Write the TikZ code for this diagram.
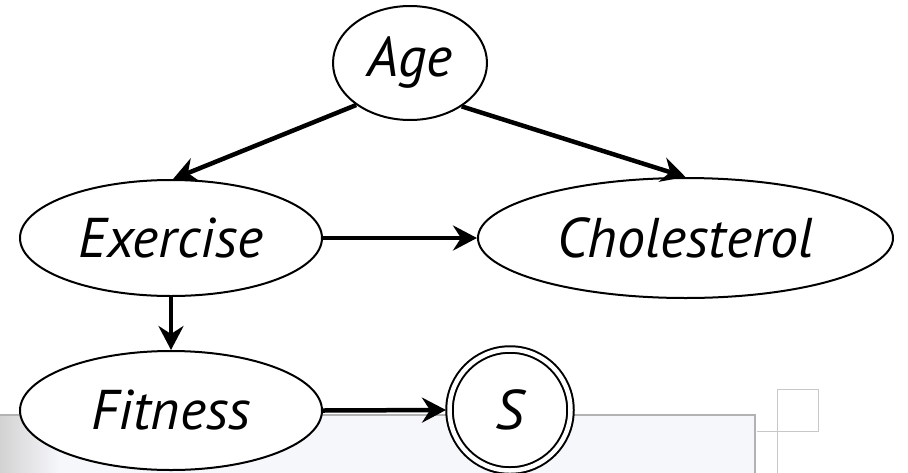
\documentclass[tikz,border=0pt]{standalone}
\usepackage{fontspec}
\setmainfont{PT Sans}
\usetikzlibrary{shapes.geometric,arrows.meta}
\definecolor{panelbg}{HTML}{F6F7FB}
\definecolor{panelrim}{HTML}{B2B2B2}
\definecolor{gridline}{HTML}{C8C8C8}
\tikzset{
  varnode/.style={ellipse, draw, line width=2pt, fill=white, inner sep=0pt,
    font=\fontsize{56}{62}\selectfont\itshape},
  evidence/.style={circle, draw, line width=2pt, double, double distance=4.5pt,
    fill=white, inner sep=0pt, minimum size=121pt, outer sep=3.5pt,
    font=\fontsize{56}{62}\selectfont\itshape},
  link/.style={line width=4.5pt, -{Stealth[length=24pt,width=25pt,inset=8pt]}},
}
\begin{document}
\begin{tikzpicture}[x=1pt,y=-1pt]
  \useasboundingbox (0,0) rectangle (908,472);
  % slide panel behind the lower row
  \fill[panelbg] (0,415) rectangle (755,474);
  \shade[left color=gray!35, right color=panelbg] (0,416) rectangle (60,474);
  \draw[panelrim, line width=2.5pt] (0,415) -- (755,415) -- (755,474);
  % small frame at the right
  \draw[gridline, line width=1pt] (777,389) rectangle (818,431);
  \draw[gridline, line width=1pt] (756.5,431) -- (777,431) -- (777,474);

  % variables
  \node[varnode, minimum width=154pt, minimum height=114pt] (age) at (410,63) {Age};
  \node[varnode, minimum width=302pt, minimum height=116pt] (ex) at (171,238) {Exercise};
  \node[varnode, minimum width=415pt, minimum height=120pt] (chol) at (685.5,238) {Cholesterol};
  \node[varnode, minimum width=302pt, minimum height=119pt] (fit) at (171,410.5) {Fitness};
  \node[evidence] (s) at (510,410) {S};

  % dependencies
  \draw[link] (age.218) -- (ex.88);
  \draw[link] (age.320) -- (chol.north);
  \draw[link] (ex.east) -- (chol.west);
  \draw[link] (ex.south) -- (fit.north);
  \draw[link] (fit.east) -- (s.west);
\end{tikzpicture}
\end{document}
